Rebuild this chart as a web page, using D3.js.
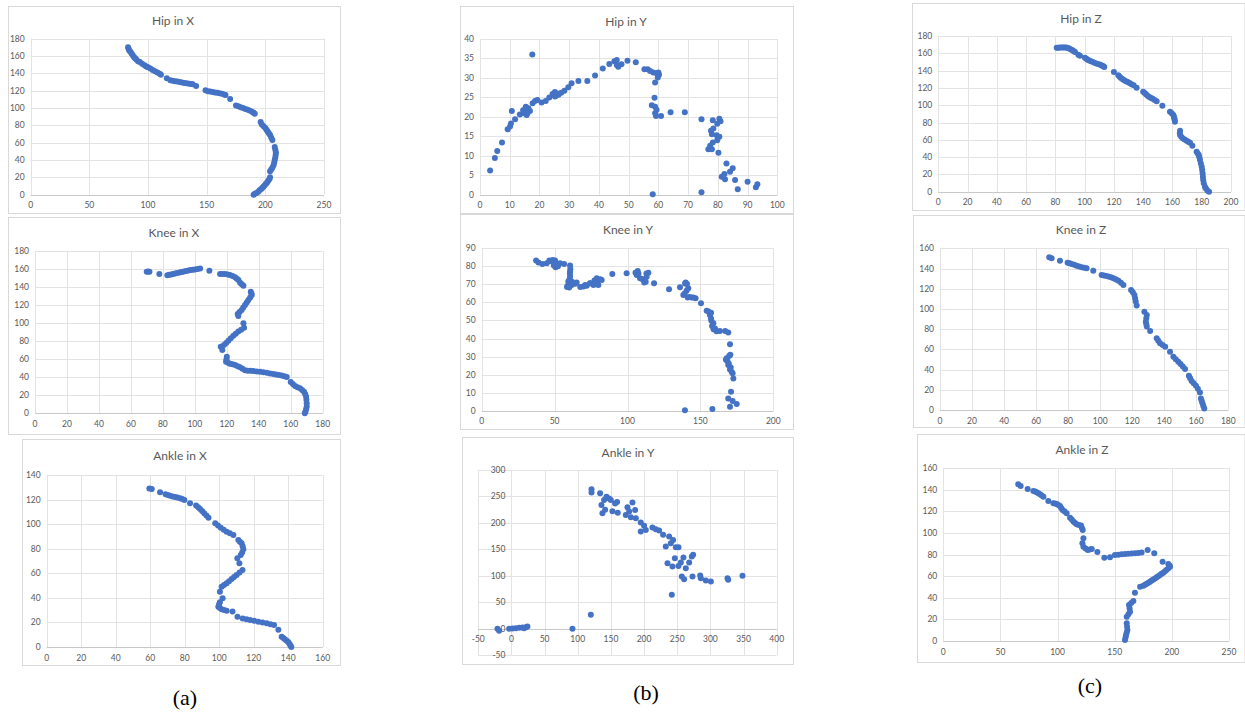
<!DOCTYPE html>
<html><head><meta charset="utf-8">
<script src="https://cdn.jsdelivr.net/npm/d3@7"></script>
<style>body{margin:0;background:#fff}svg{display:block}</style>
</head><body>
<svg id="c" width="1245" height="713"></svg>
<script>
// ---------- DATA ----------
const hipX = [[83,170],[83.5,168],[84,166.5],[85,165],[86,163],[87,161],[88,159],[89,157.5],[90,156],[91.5,154],[93,153],[95,151],[97,149.5],[98.5,148],[100,147],[102,145.5],[104,144],[106,142.5],[108,141],[110,139.5],[111,138.5],[116,134.5],[119,132],[121,131.5],[123,131],[125,130.5],[127,130],[129,129.5],[131,129],[133,128.5],[135,128],[137,127.7],[138,127.3],[141,125.5],[149,120.5],[151,119.5],[153,119],[155,118.5],[157,118],[159,117.5],[161,117],[163,116.5],[165,115.5],[166,115],[170,110.5],[175,103],[177,102],[179,101],[181,100],[183,99],[185,98],[187,97],[189,95.5],[190,94.5],[191,93.5],[196,84],[197,81],[198.5,79],[200,77],[201,75],[202,73],[203,71],[204,69],[205,66],[206,63],[208,55],[208.5,52],[209,49],[208.8,46],[208.5,43],[208,40],[207.5,37],[207,34],[206,31],[205,29],[204,27],[204,20],[203.5,18],[202.5,16],[201.5,14],[200.5,12.5],[199.5,11],[198.5,9.5],[197.5,8],[196.5,6.5],[195,5],[194,3.5],[192.5,2],[191,1],[190,0]];
const hipY = [[3.4,6.2],[5.0,9.4],[5.8,11.2],[7.4,13.4],[9.3,16.8],[10.1,17.5],[10.4,18.3],[10.7,21.5],[11.8,19.4],[13.4,20.6],[14.8,20.9],[15.1,21.8],[15.4,22.6],[15.7,20.5],[16.3,22.2],[16.8,21.5],[14.5,21.7],[15.5,22.3],[16,21],[17.6,36.0],[17.7,23.5],[18.5,24.1],[19.3,24.3],[20.7,23.7],[22.1,24.1],[23.3,25.0],[24.4,25.9],[25.2,26.4],[25.5,25.4],[25.8,26.0],[25.2,25.2],[26.4,25.7],[27.3,26.2],[28.4,26.7],[29.7,27.6],[30.8,28.6],[33.1,29.2],[36.1,29.2],[38.7,30.6],[41.3,32.4],[43.5,33.6],[45.2,34.3],[46.0,34.6],[46.0,33.3],[46.5,32.9],[47.6,33.5],[49.6,34.4],[52.4,34.0],[55.3,32.2],[56.4,32.2],[57.2,31.8],[58.3,31.4],[59.4,31.2],[60.0,31.4],[60.2,30.8],[59.8,30.1],[58.9,28.8],[58.7,24.9],[57.8,23.0],[58.9,22.6],[59.4,21.8],[58.9,20.9],[59.2,20.2],[60.9,20.2],[64.1,21.2],[68.9,21.2],[74.5,19.4],[78.3,19.1],[80.5,19.5],[80.9,18.9],[79.8,18.2],[78.5,17.0],[77.7,16.4],[78.0,15.5],[79.6,15.3],[80.5,14.9],[79.8,14.0],[78.3,13.4],[77.4,12.6],[76.8,11.7],[78.0,11.7],[80.2,10.8],[82.9,8.0],[81.3,4.6],[82.2,5.3],[82.4,4.0],[84.1,5.9],[85.0,6.8],[85.8,3.8],[86.7,1.4],[90.0,3.3],[92.8,1.9],[93.3,2.7],[58.1,0.1],[74.5,0.6]];
const hipZ = [[80.9,166.5],[82,166.5],[83.1,166.6],[84.2,166.7],[85.3,166.8],[86.4,166.8],[87.5,166.6],[88.5,166.1],[89.5,165.5],[90.6,164.5],[91.8,163.4],[92.6,162.4],[93.4,161.5],[95.7,158.4],[96.8,157.2],[100.2,155],[101.2,153.8],[102,152.6],[103.2,151.6],[104.3,150.7],[105.6,149.8],[107,148.8],[108.4,148],[109.8,147.2],[111,146.4],[112,145.7],[112.8,145],[113.4,144.2],[120,138.5],[123,134.6],[123.9,133],[124.8,131.5],[126,130],[127,128.8],[128.2,127.8],[129.4,126.9],[130.7,125.6],[132,124.2],[133.5,123],[135.5,120.3],[140,115.6],[141,114],[141.9,112.6],[143,111],[144.2,109.5],[145.4,108.4],[146.5,107.5],[147.8,106],[149.2,104.5],[153.1,99.5],[158.3,92.5],[159.5,90.7],[160.6,88.7],[161,86.7],[161.3,84.8],[161.5,82.8],[161.7,81],[165.2,70.5],[165,68],[165.2,65.5],[166,63.5],[167,61.7],[168.3,60.3],[169.7,59],[170.8,57.8],[172,56.7],[173.6,53.2],[176.5,46.3],[177.3,44.3],[178,42.4],[178.4,39.5],[178.8,36.6],[179.4,32.7],[180,28.9],[180.3,25],[180.6,21.2],[180.8,17.3],[181,13.5],[181.4,9.7],[182.2,5.8],[183,3.5],[184,1.2],[185,0]];
const kneeX = [[69.9,157.1],[70.8,157.2],[71.6,157.1],[77.8,154.6],[82.8,153.1],[84,153.6],[85.2,154],[86.4,154.5],[87.6,155],[89,155.6],[90.4,156.2],[91.8,156.8],[93.2,157.3],[94.6,157.9],[96,158.5],[97.4,158.9],[98.8,159.2],[100.1,159.6],[101.7,160.1],[103.3,160.7],[109.1,158.1],[115.8,154.4],[117.3,154.6],[118.9,154.4],[120.5,154],[122,153.4],[123.6,152.3],[125.2,150.8],[126.3,149.3],[127.3,147.8],[128.3,144.8],[129.4,143],[130.4,141.5],[135,134.9],[135.4,133],[135.6,131.2],[134.6,128.5],[133.5,125.7],[132.5,122.9],[131.4,120.1],[130.3,117.3],[129.3,114.5],[128,112.3],[126.8,110.2],[127.2,107.9],[130.4,99.8],[130.8,95],[129,92.8],[127.2,90.6],[125.6,88.3],[124.1,86.1],[122.5,83.3],[121,80.5],[119.6,78.1],[118.2,75.7],[116.2,73.9],[117.2,70.2],[120,62.8],[119.8,60],[119.5,57.3],[120.8,56],[122,55],[123.6,54.3],[125.2,53.6],[126.8,52.3],[128.3,51],[129.8,49.3],[131.4,47.7],[133,47.3],[134.8,47.1],[136.6,46.9],[138.7,46.4],[140.8,46],[142.9,45.5],[145,44.9],[147,44.2],[149.1,43.6],[150.8,43],[152.6,42.4],[154.3,41.8],[156,41],[157.5,40.3],[160,34.7],[161.3,32.5],[162.7,30.3],[164.2,29],[165.8,27.7],[167.1,25.9],[168.3,24],[169,21.3],[169.6,18.5],[169.8,15],[170,11.2],[170,7.4],[169.6,4.6],[169.2,1.8],[168.8,0]];
const kneeY = [[37.3,83.2],[38.9,82.1],[41.6,81.3],[44.6,81.7],[46.4,83.2],[48.7,83.5],[50.3,83.2],[50.7,79.5],[51.4,81.3],[49.5,80.5],[50,82.5],[47.5,82.8],[52.3,80],[53.7,81.7],[56.5,81.3],[60.6,80.4],[60.8,78.5],[60.6,77.1],[60.5,76],[60.6,74.4],[60.3,73],[59.4,71.6],[59.8,70.5],[59,69.2],[58.5,68.5],[60,68.3],[61.7,69.7],[61.9,71.5],[64.2,70.4],[65.1,71],[67.6,68.6],[69.7,68.8],[71,69.7],[72,69.2],[74.3,70.6],[74.5,70.6],[76.7,69.7],[77.3,72.1],[78.9,73.4],[79,71],[80,69.7],[81.3,72.8],[82.3,72.5],[89.6,75.8],[99.4,76.2],[105.5,76.5],[107,77.4],[107.5,76],[106.3,75.2],[108.6,73.4],[110,73],[111.5,71],[112.5,71.5],[114.3,76.5],[113,76],[113.1,74.3],[118.2,70.6],[128.5,67.3],[136,68.4],[139.5,70.5],[139.9,71],[140.8,70.2],[141.7,67.9],[140.5,66.5],[139.2,65],[138.3,64.1],[141.3,62.8],[142.5,63],[144,62.8],[145.1,62.8],[146.7,62.3],[150.4,59.5],[154.3,55.4],[155.5,55],[156.5,53],[157.3,54.3],[157.3,51.1],[157.5,50],[158,47],[158.9,48.4],[159,45.2],[160,45.6],[161,44],[163.4,44.2],[167,44.2],[169.1,43.3],[170.3,36.8],[167.5,28.3],[168,29],[168.5,27.5],[169.5,26],[169.7,30.3],[170.5,31],[169.1,25.3],[170.8,24],[170.3,22.9],[171.5,21.5],[172.1,20.7],[172.6,17.9],[171,10.5],[169.1,6.8],[172.1,5.4],[174.9,3.7],[170.3,2.2],[158.2,0.9],[139.4,0.2]];
const kneeZ = [[68.2,151.1],[69.7,150.1],[74.9,147.8],[79.7,145.8],[81,145.2],[82.2,144.5],[83.8,143.6],[85.3,142.8],[86.9,142],[88.5,141.2],[90,140.7],[91.5,140.2],[95.7,137.9],[100.9,133.6],[102.4,133.1],[104,132.6],[105.6,131.8],[107.2,131],[108.6,130.2],[110,129.2],[111.4,128],[113,126],[114.5,123.7],[119.3,118.8],[120.4,116.4],[121.4,113.9],[121.8,110.6],[122.2,107.3],[122.8,103.3],[127.6,97.3],[129.1,94],[128.8,90.7],[128.5,87.4],[128.8,85],[129.1,82.5],[131.2,78.2],[135.3,70.9],[136.3,68.4],[137.4,66],[139,64.3],[140.6,62.7],[143.6,57.7],[145.7,52.8],[147.2,50.3],[148.8,47.8],[150.2,45.4],[151.6,43],[153,40.6],[155.4,34],[156.2,31.3],[157.1,28.7],[158.4,26.4],[159.8,24.1],[161,21],[162.3,17.2],[162.9,11.5],[163.4,9],[163.9,6.6],[164.4,4],[165,1.6]];
const ankleX = [[59.5,129.1],[60.9,128.6],[65.7,125.9],[68.9,124.3],[70.2,123.8],[71.5,123.2],[73,122.6],[74.4,122.1],[75.8,121.6],[77.3,121],[78.6,120.4],[79.8,119.7],[83.1,117],[86.6,115.1],[87.8,113.8],[88.9,112.4],[90.1,110.7],[91.3,108.9],[92.6,107.1],[93.8,105.3],[97.7,100.7],[99.3,98.9],[100.9,97.1],[102.6,95.5],[104.3,93.9],[106.2,92.5],[108.2,91.2],[111.1,87.1],[112,85.7],[113,84.4],[113.6,82],[114,79.5],[113.3,77],[112.5,74.9],[110.5,72.2],[111.7,68.1],[113.5,62.7],[111.8,60.6],[110.1,58.6],[108.6,57],[107.2,55.3],[105.7,53.6],[104.3,51.8],[102.8,50.5],[101.4,49.1],[100.4,45],[102,39.6],[100.4,36.4],[99.9,34.6],[99.5,32.8],[100.4,31.7],[101.4,30.7],[102.8,30.1],[104.3,29.6],[107.7,28.8],[110.6,24.7],[113.6,23.1],[115.8,22.5],[117.9,22],[120.3,21.3],[122.7,20.6],[125.1,19.9],[127.5,19.3],[129.7,18.6],[131.8,17.9],[134.3,14.1],[136.2,8.4],[137.2,7.3],[138.2,6.2],[139.2,5],[140.1,3.8],[140.8,2.4],[141.4,1.1],[141.8,0]];
const ankleY = [[-21.1,0],[-18.6,-3.8],[-3.5,0],[1.5,0.6],[6.5,1.3],[11.6,1.9],[16.6,2.5],[21.6,3.1],[24.1,4.4],[19.1,1.3],[92,0],[119.7,26.4],[120.7,263.7],[120.7,257.4],[133.7,256.1],[135.7,234.1],[137.2,218.4],[139.7,243.1],[143.3,249.4],[141.3,225.1],[147.3,246.2],[149.8,243.1],[152.3,222.3],[156.3,236.5],[159.3,239.6],[160.3,219.4],[172.4,215.2],[174.9,229.6],[177.5,221.4],[180,210.8],[182.5,238.4],[186.5,224.5],[187.5,208.9],[195,200.8],[195,183.8],[200,194.5],[202.6,186.9],[212.6,191.3],[217.7,188.2],[222.7,185.7],[228.7,177.5],[232.7,155.4],[237.8,174.3],[240.3,161.7],[243.8,168],[247.9,154.2],[251.9,154.2],[235.3,124],[242.8,117.7],[246.4,133.5],[251.9,118.9],[255.4,125.2],[259.4,134.7],[262.9,114.6],[268,125.2],[272,136.6],[274,139.7],[256.9,98.8],[260.4,93.8],[273,98.8],[285.6,95.7],[293.1,91.3],[300.7,89.4],[325.8,95.7],[326.8,92.5],[348.4,100.1],[241.8,64.2],[284.6,100.7]];
const ankleZ = [[65.6,145.2],[67.7,143.6],[73.8,140.8],[78.8,139],[80.3,138.4],[81.7,137.8],[83.2,136.9],[84.6,135.9],[86.1,134.8],[87.6,133.7],[91.9,129.7],[96.3,127.6],[97.8,127.3],[99.2,126.9],[100.7,126.1],[102.1,125.1],[103.2,123.3],[104.4,121.4],[106.2,119.9],[107.9,118.3],[110.9,114.3],[112.4,112.5],[113.8,110.6],[115.3,109.4],[116.7,108.1],[118.6,107.5],[120.5,106.9],[121.3,104.8],[122,102.8],[122.6,95.1],[121.7,90.5],[122.6,87.4],[124.5,85.8],[126.4,84.3],[128.2,84.8],[129.9,85.3],[134.8,82.5],[140.9,77.2],[145.9,77.5],[150.2,79.7],[153.2,80],[156.1,80.3],[159,80.6],[161.9,80.9],[164.8,81],[167.7,81.2],[170.6,81.5],[173.5,81.9],[178.8,84.3],[184.6,81.2],[191.9,73.5],[196.9,71.4],[198,70],[198.4,68.9],[197,67.5],[195.5,66.1],[194,64.7],[192.5,63.3],[191,62.2],[189.6,61.1],[188.1,60],[186.7,59],[185.2,58],[183.8,57],[182.3,56],[180.9,55],[179.5,54],[178,53.1],[176.6,52.2],[175.1,51.3],[172.2,50.3],[167.7,44.8],[166.3,37.1],[164.4,35.2],[162.5,33.4],[163,30.3],[163.4,27.2],[162,24.8],[160.5,22.5],[160.5,16.4],[160.8,13.3],[161.1,10.2],[160.5,7.9],[159.9,5.6],[159.5,3.2],[159,0.9]];

// tick labels
const hipXTicksX = [0,50,100,150,200,250];
const hipXTicksY = [0,20,40,60,80,100,120,140,160,180];
const hipYTicksX = [0,10,20,30,40,50,60,70,80,90,100];
const hipYTicksY = [0,5,10,15,20,25,30,35,40];
const hipZTicksX = [0,20,40,60,80,100,120,140,160,180,200];
const hipZTicksY = [0,20,40,60,80,100,120,140,160,180];
const kneeXTicksX = [0,20,40,60,80,100,120,140,160,180];
const kneeXTicksY = [0,20,40,60,80,100,120,140,160,180];
const kneeYTicksX = [0,50,100,150,200];
const kneeYTicksY = [0,10,20,30,40,50,60,70,80,90];
const kneeZTicksX = [0,20,40,60,80,100,120,140,160,180];
const kneeZTicksY = [0,20,40,60,80,100,120,140,160];
const ankleXTicksX = [0,20,40,60,80,100,120,140,160];
const ankleXTicksY = [0,20,40,60,80,100,120,140];
const ankleYTicksX = [-50,0,50,100,150,200,250,300,350,400];
const ankleYTicksY = [-50,0,50,100,150,200,250,300];
const ankleZTicksX = [0,50,100,150,200,250];
const ankleZTicksY = [0,20,40,60,80,100,120,140,160];

const titles = ["Hip in X","Hip in Y","Hip in Z","Knee in X","Knee in Y","Knee in Z","Ankle in X","Ankle in Y","Ankle in Z"];
const captions = ["(a)","(b)","(c)"];

// ---------- LAYOUT ----------
const panels = [
  {data:hipX, tx:hipXTicksX, ty:hipXTicksY, box:[8,6,340,213], px:[30.7,324], py:[38.7,194.7], title:[173,25]},
  {data:hipY, tx:hipYTicksX, ty:hipYTicksY, box:[460,6,793,213], px:[480,777.3], py:[39,194.7], title:[626,25.5]},
  {data:hipZ, tx:hipZTicksX, ty:hipZTicksY, box:[912,3,1244.5,210], px:[938.3,1231], py:[36,191.7], title:[1081,22.5]},
  {data:kneeX, tx:kneeXTicksX, ty:kneeXTicksY, box:[8,217,340,434], px:[35,322.7], py:[251,413.3], title:[174,236.5]},
  {data:kneeY, tx:kneeYTicksX, ty:kneeYTicksY, box:[460,214,793,429], px:[481.7,773.3], py:[248.3,410.7], title:[628,234]},
  {data:kneeZ, tx:kneeZTicksX, ty:kneeZTicksY, box:[913,215,1244.5,427], px:[940,1228.3], py:[248.3,410], title:[1081,234]},
  {data:ankleX, tx:ankleXTicksX, ty:ankleXTicksY, box:[22,439,340,665], px:[46.7,322.7], py:[475,647], title:[180,460]},
  {data:ankleY, tx:ankleYTicksX, ty:ankleYTicksY, box:[462,437,793,664], px:[478.3,776.7], py:[470,655.3], title:[628,456.5]},
  {data:ankleZ, tx:ankleZTicksX, ty:ankleZTicksY, box:[917,434,1244.5,662], px:[943.3,1229], py:[468.3,641], title:[1082,454]}
];
const capPos = [[185,705],[646,700],[1090,693]];

const svg = d3.select("#c");
const FONT = "Lato, 'Open Sans', sans-serif";
const LABEL = "#595959";

panels.forEach((p, i) => {
  const g = svg.append("g");
  const [bx0, by0, bx1, by1] = p.box;
  g.append("rect").attr("x", bx0 + 0.5).attr("y", by0 + 0.5)
    .attr("width", bx1 - bx0).attr("height", by1 - by0)
    .attr("fill", "#fff").attr("stroke", "#d9d9d9").attr("stroke-width", 1);

  const xs = d3.scaleLinear().domain(d3.extent(p.tx)).range(p.px);
  const ys = d3.scaleLinear().domain(d3.extent(p.ty)).range([p.py[1], p.py[0]]);

  // gridlines
  g.append("g").selectAll("line.v").data(p.tx).join("line")
    .attr("x1", d => Math.round(xs(d)) + 0.5).attr("x2", d => Math.round(xs(d)) + 0.5)
    .attr("y1", p.py[0]).attr("y2", p.py[1])
    .attr("stroke", "#e3e3e3").attr("stroke-width", 1);
  g.append("g").selectAll("line.h").data(p.ty).join("line")
    .attr("y1", d => Math.round(ys(d)) + 0.5).attr("y2", d => Math.round(ys(d)) + 0.5)
    .attr("x1", p.px[0]).attr("x2", p.px[1])
    .attr("stroke", "#e3e3e3").attr("stroke-width", 1);

  // axis crossing points (Excel crosses at 0)
  const y0 = ys(Math.max(0, ys.domain()[0]));
  const x0 = xs(Math.max(0, xs.domain()[0]));
  g.append("line").attr("x1", p.px[0]).attr("x2", p.px[1])
    .attr("y1", Math.round(y0) + 0.5).attr("y2", Math.round(y0) + 0.5)
    .attr("stroke", "#c8c8c8").attr("stroke-width", 1);

  // x tick labels
  g.append("g").selectAll("text").data(p.tx).join("text")
    .attr("x", d => xs(d)).attr("y", y0 + 13.5)
    .attr("text-anchor", "middle").attr("font-family", FONT).attr("font-size", 8.5)
    .attr("fill", LABEL).text(d => d);
  // y tick labels
  g.append("g").selectAll("text").data(p.ty).join("text")
    .attr("x", x0 - 6).attr("y", d => ys(d) + 3)
    .attr("text-anchor", "end").attr("font-family", FONT).attr("font-size", 8.5)
    .attr("fill", LABEL).text(d => d);

  // title
  g.append("text").attr("x", p.title[0]).attr("y", p.title[1])
    .attr("text-anchor", "middle").attr("font-family", FONT).attr("font-size", 12)
    .attr("fill", LABEL).text(titles[i]);

  // points
  g.append("g").selectAll("circle").data(p.data).join("circle")
    .attr("cx", d => xs(d[0])).attr("cy", d => ys(d[1])).attr("r", 3)
    .attr("fill", "#4472c4");
});

svg.selectAll("text.cap").data(captions).join("text")
  .attr("class", "cap")
  .attr("x", (d, i) => capPos[i][0]).attr("y", (d, i) => capPos[i][1])
  .attr("text-anchor", "middle").attr("font-family", "'Liberation Serif', 'DejaVu Serif', serif")
  .attr("font-size", 22).attr("fill", "#000").text(d => d);
</script>
</body></html>
